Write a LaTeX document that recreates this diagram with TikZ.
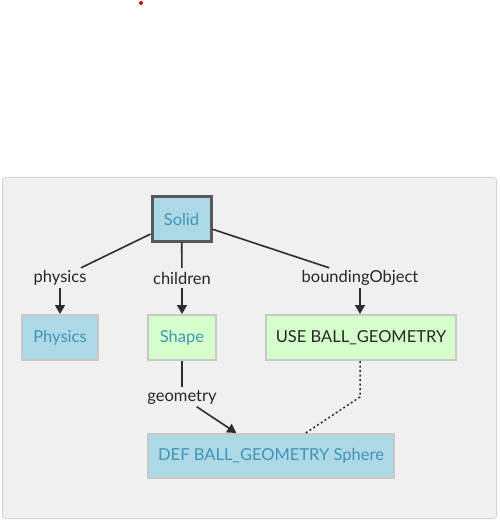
\documentclass[tikz,border=0pt]{standalone}
\usepackage{fontspec}
\setmainfont{Lato}
\usetikzlibrary{arrows.meta}
\definecolor{nodeblue}{RGB}{173,216,230}
\definecolor{nodegreen}{RGB}{212,255,204}
\definecolor{nodetext}{RGB}{64,148,182}
\definecolor{panelfill}{RGB}{240,240,240}
\definecolor{panelline}{RGB}{212,212,212}
\definecolor{boxline}{RGB}{200,200,200}
\definecolor{edgecol}{RGB}{45,45,45}
\tikzset{vrmlnode/.style={draw=boxline,line width=2pt,minimum height=45pt,inner sep=0pt,
  font=\fontsize{16.5}{19}\selectfont},
 protonode/.style={vrmlnode,fill=nodeblue,text=nodetext},
 usenode/.style={vrmlnode,fill=nodegreen,text=black!85},
 fieldlbl/.style={inner sep=0pt,minimum height=20pt,font=\fontsize{16.5}{19}\selectfont,text=black!85},
 link/.style={edgecol,line width=1.6pt},
 fieldarrow/.style={link,-{Triangle[width=10pt,length=9pt]}}}

\begin{document}
\begin{tikzpicture}[x=1pt,y=-1pt]
\useasboundingbox (0,0) rectangle (499,521);
\fill[red!85!black] (141,3) circle (2pt);
\draw[panelline,fill=panelfill,line width=1pt,rounded corners=3pt] (2.5,177.5) rectangle (496.5,518.5);
% nodes
\node[protonode,draw=black!65,line width=3pt,minimum width=59pt,minimum height=44pt] (solid) at (181.5,219) {Solid};
\node[protonode,minimum width=76pt] (physics) at (60,337.5) {Physics};
\node[vrmlnode,fill=nodegreen,text=nodetext,minimum width=68pt] (shape) at (182,337.5) {Shape};
\node[usenode,minimum width=190pt] (use) at (361,337.5) {USE BALL\_GEOMETRY};
\node[protonode,minimum width=246pt,minimum height=44pt] (sphere) at (271,456) {DEF BALL\_GEOMETRY Sphere};
% field labels
\node[fieldlbl] (lphysics) at (60,278) {physics};
\node[fieldlbl] (lchildren) at (182,278) {children};
\node[fieldlbl] (lbounding) at (360,278) {boundingObject};
\node[fieldlbl,minimum height=19pt] (lgeometry) at (182,397) {geometry};
\coordinate (bend) at (360,397);
% edges
\draw[link] (solid)--(lphysics);
\draw[link] (solid)--(lchildren);
\draw[link] (solid)--(lbounding);
\draw[fieldarrow] (lphysics)--(physics);
\draw[fieldarrow] (lchildren)--(shape);
\draw[fieldarrow] (lbounding)--(use.north -| lbounding);
\draw[link] (shape)--(lgeometry);
\draw[fieldarrow] (lgeometry)--(sphere);
\draw[link,line width=1.5pt,dash pattern=on 2pt off 2.5pt] (use.south -| bend)--(bend)--(sphere);
\end{tikzpicture}
\end{document}
